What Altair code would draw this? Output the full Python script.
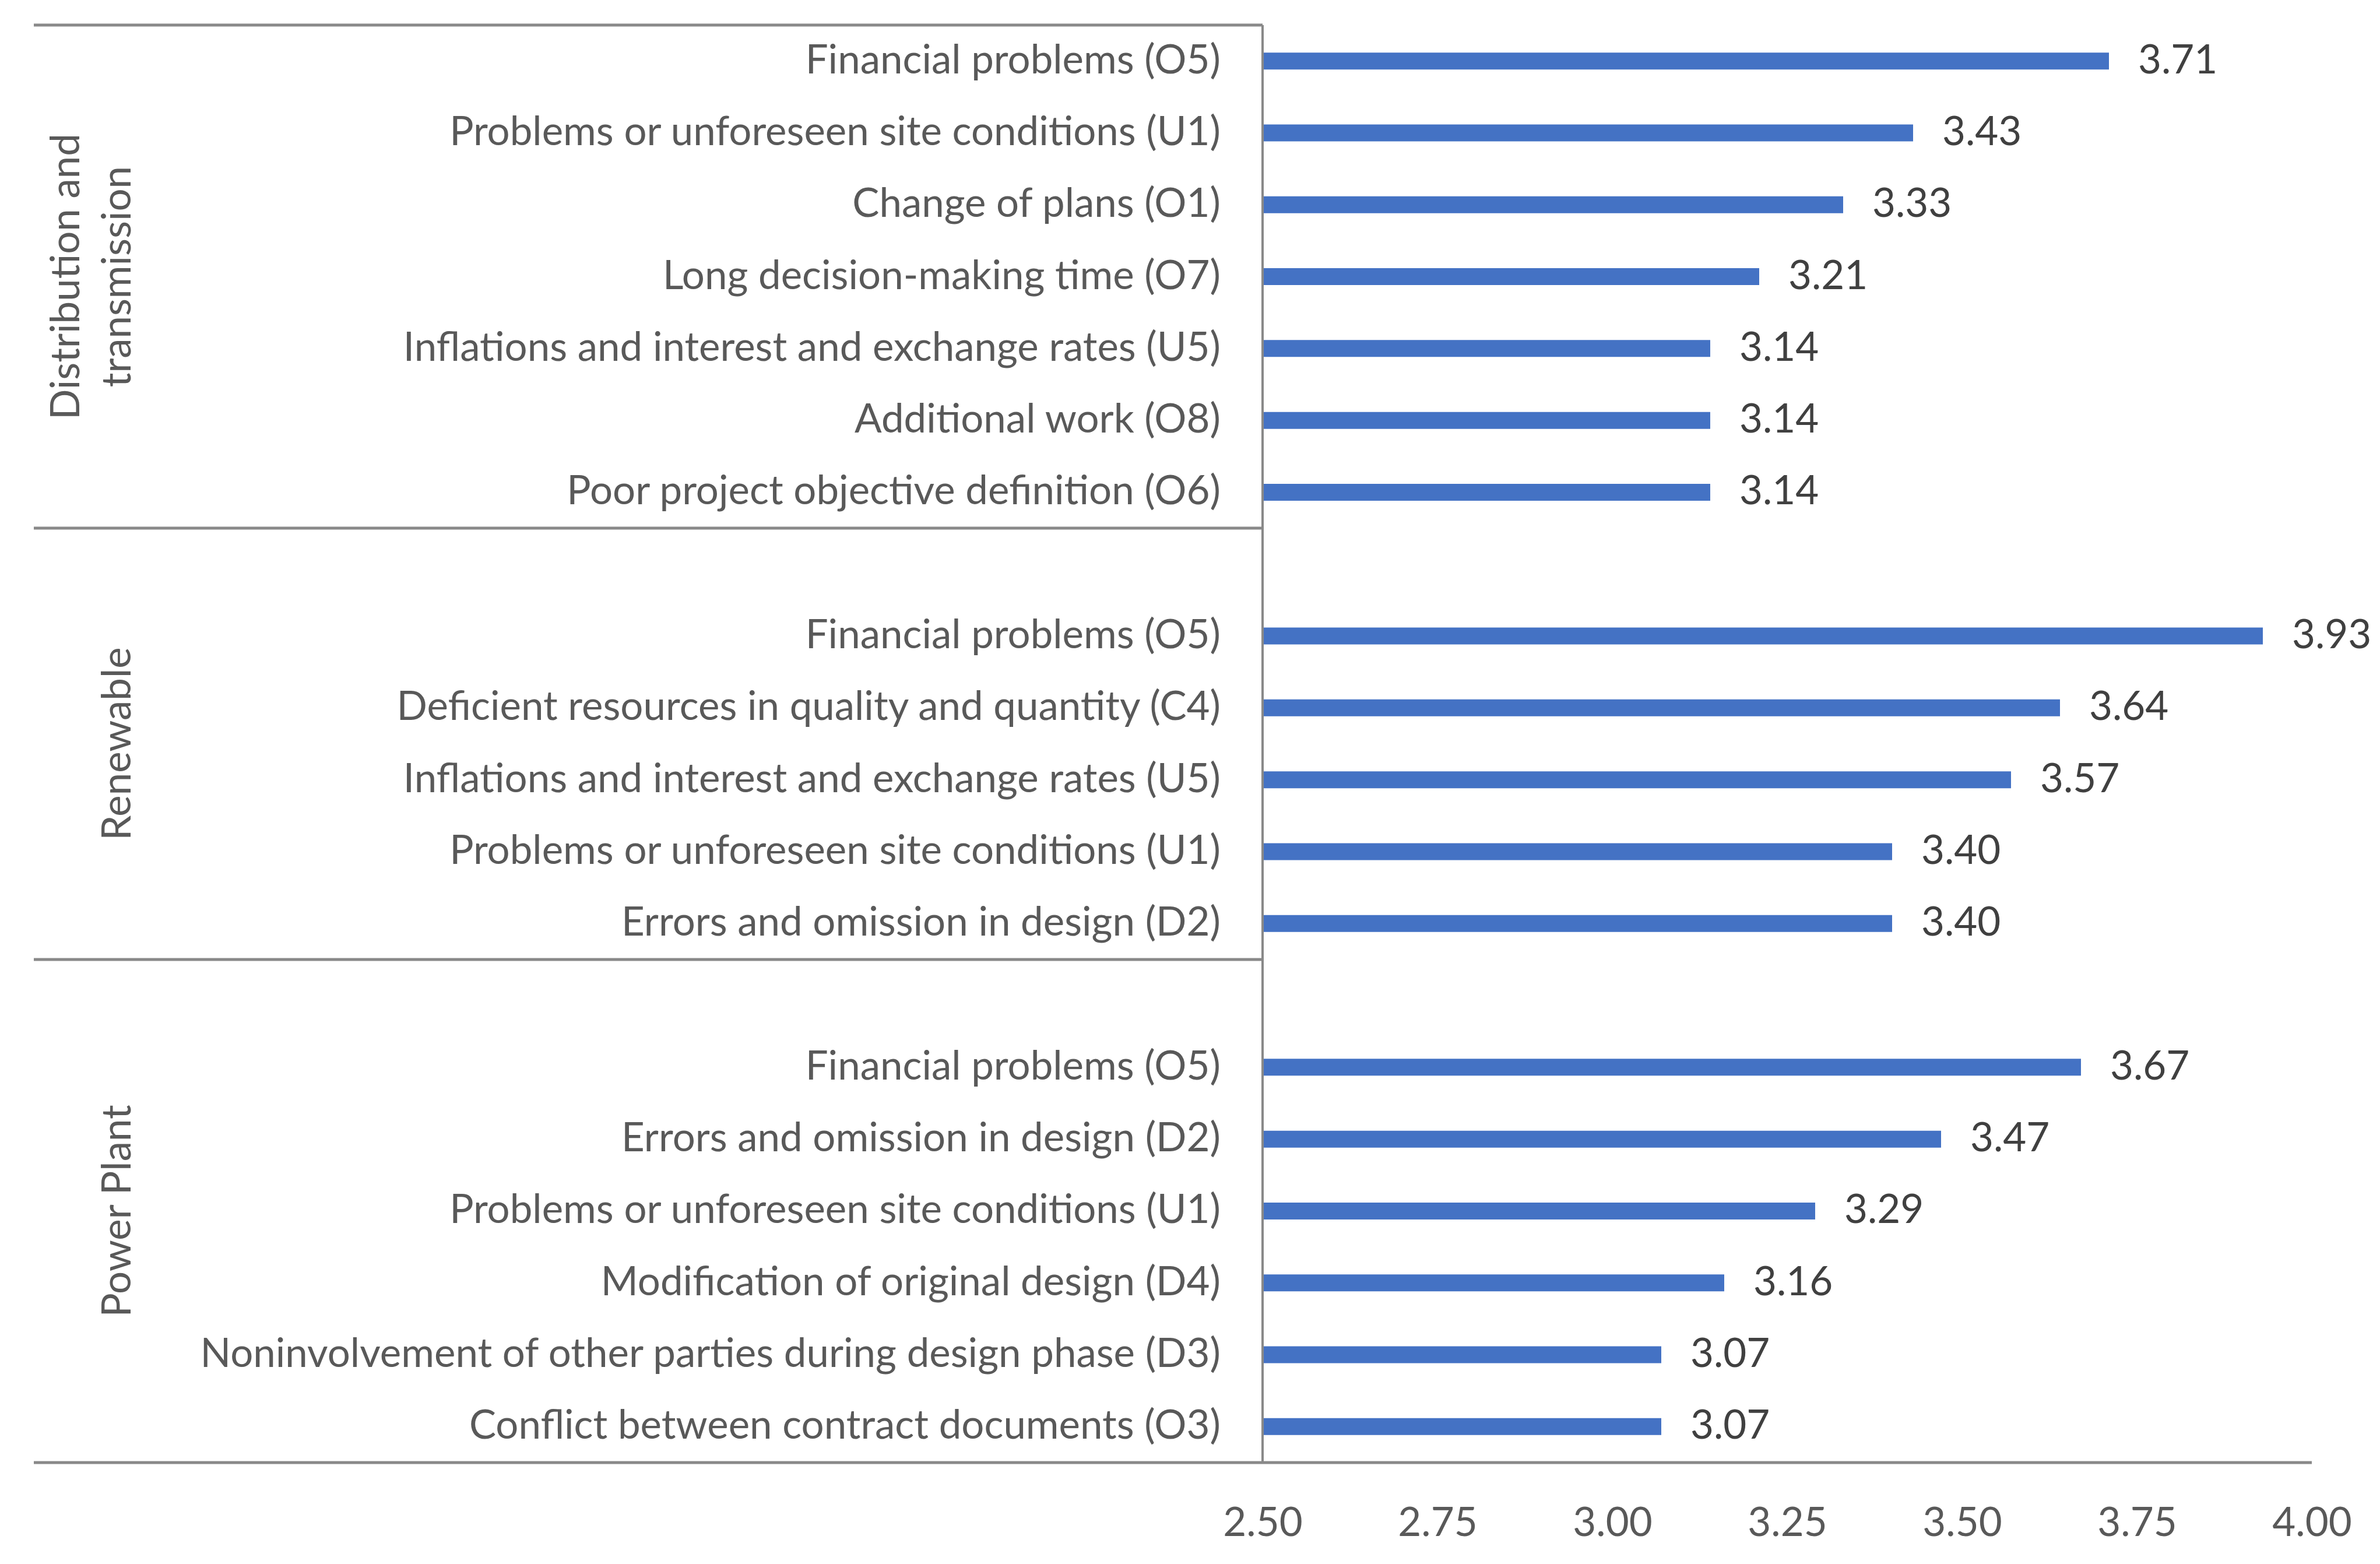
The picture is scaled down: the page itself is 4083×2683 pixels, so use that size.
import altair as alt
import pandas as pd

groups = ["Distribution and transmission", "Renewable", "Power Plant"]
group_lines = [["Distribution and", "transmission"], ["Renewable"], ["Power Plant"]]

dt_labels = [
    "Financial problems (O5)",
    "Problems or unforeseen site conditions (U1)",
    "Change of plans (O1)",
    "Long decision-making time (O7)",
    "Inflations and interest and exchange rates (U5)",
    "Additional work (O8)",
    "Poor project objective definition (O6)",
]
dt_values = [3.71, 3.43, 3.33, 3.21, 3.14, 3.14, 3.14]

ren_labels = [
    "Financial problems (O5)",
    "Deficient resources in quality and quantity (C4)",
    "Inflations and interest and exchange rates (U5)",
    "Problems or unforeseen site conditions (U1)",
    "Errors and omission in design (D2)",
]
ren_values = [3.93, 3.64, 3.57, 3.40, 3.40]

pp_labels = [
    "Financial problems (O5)",
    "Errors and omission in design (D2)",
    "Problems or unforeseen site conditions (U1)",
    "Modification of original design (D4)",
    "Noninvolvement of other parties during design phase (D3)",
    "Conflict between contract documents (O3)",
]
pp_values = [3.67, 3.47, 3.29, 3.16, 3.07, 3.07]

x_ticks = [2.50, 2.75, 3.00, 3.25, 3.50, 3.75, 4.00]

# ---- build row table (a blank row precedes groups 2 and 3) ----
domain = []
records = []
group_spans = []  # (start_index, end_index)
for gi, (labels, values) in enumerate([(dt_labels, dt_values), (ren_labels, ren_values), (pp_labels, pp_values)]):
    start = len(domain)
    if gi > 0:
        domain.append(f"r{len(domain):02d}")
    for lab, val in zip(labels, values):
        key = f"r{len(domain):02d}"
        domain.append(key)
        records.append({"row": key, "label": lab, "value": val, "group": groups[gi]})
    group_spans.append((start, len(domain) - 1))

df = pd.DataFrame(records)

FONT = "Lato"
FS = 69
LABEL_COLOR = "#595959"
VALUE_COLOR = "#404040"
LINE_COLOR = "#898989"
BAR_COLOR = "#4472C4"

yscale = alt.Scale(type="band", domain=domain, paddingInner=0, paddingOuter=0)


def Y(bp=None):
    kw = {}
    if bp is not None:
        kw["bandPosition"] = bp
    return alt.Y("row:N", scale=yscale, axis=None, **kw)


base = alt.Chart(df)

bars = base.mark_bar(color=BAR_COLOR, size=29).encode(
    x=alt.X(
        "value:Q",
        scale=alt.Scale(domain=[2.5, 4.0], zero=False, nice=False),
        axis=alt.Axis(
            values=x_ticks, format=".2f", ticks=False, domain=False, grid=False,
            labelFont=FONT, labelFontSize=FS, labelColor=LABEL_COLOR,
            labelPadding=70, labelFlush=False, labelOverlap=False, title=None,
        ),
    ),
    x2=alt.datum(2.5),
    y=Y(),
)

values_txt = base.mark_text(
    align="left", baseline="middle", dx=50, font=FONT, fontSize=FS, color=VALUE_COLOR
).encode(
    x=alt.X("value:Q"),
    y=Y(),
    text=alt.Text("value:Q", format=".2f"),
)

cat_txt = base.mark_text(
    align="right", baseline="middle", font=FONT, fontSize=FS, color=LABEL_COLOR
).encode(
    x=alt.value(-72),
    y=Y(),
    text="label:N",
)

# vertical category axis line
vline = alt.Chart(df).mark_rule(color=LINE_COLOR, strokeWidth=3.5).encode(
    x=alt.value(0), y=alt.value(0), y2=alt.value(2466)
)

# separators: top line and the line at the start of each later group
sep_df = pd.DataFrame({"row": [domain[s] for s, e in group_spans]})
seps = alt.Chart(sep_df).mark_rule(color=LINE_COLOR, strokeWidth=5).encode(
    y=Y(bp=0), x=alt.value(-2108), x2=alt.value(0)
)
bottom_df = pd.DataFrame({"row": [domain[-1]]})
bottom = alt.Chart(bottom_df).mark_rule(color=LINE_COLOR, strokeWidth=5).encode(
    y=Y(bp=1), x=alt.value(-2108), x2=alt.value(1800)
)

# group labels (rotated), centred on each group's span
glayers = []
for gi, (s, e) in enumerate(group_spans):
    n = e - s + 1
    if n % 2 == 1:
        key, bp = domain[s + n // 2], 0.5
    else:
        key, bp = domain[s + n // 2], 0
    gdf = pd.DataFrame({"row": [key], "group": [groups[gi]]})
    lines = group_lines[gi]
    xpos = -1963 if len(lines) == 1 else -2051
    glayers.append(
        alt.Chart(gdf).mark_text(
            angle=270, align="center", baseline="middle", font=FONT, fontSize=FS,
            color=LABEL_COLOR, lineHeight=88,
            text=lines if len(lines) > 1 else lines[0],
        ).encode(y=Y(bp=bp), x=alt.value(xpos))
    )

chart = alt.layer(bars, values_txt, cat_txt, vline, seps, bottom, *glayers).properties(
    width=1800,
    height=2466,
    autosize=alt.AutoSizeParams(type="none"),
    padding={"left": 2158, "top": 35, "right": 108, "bottom": 166},
    background="white",
).configure_view(stroke=None)

chart.save("out.html", embed_options={"renderer": "svg", "actions": False})
